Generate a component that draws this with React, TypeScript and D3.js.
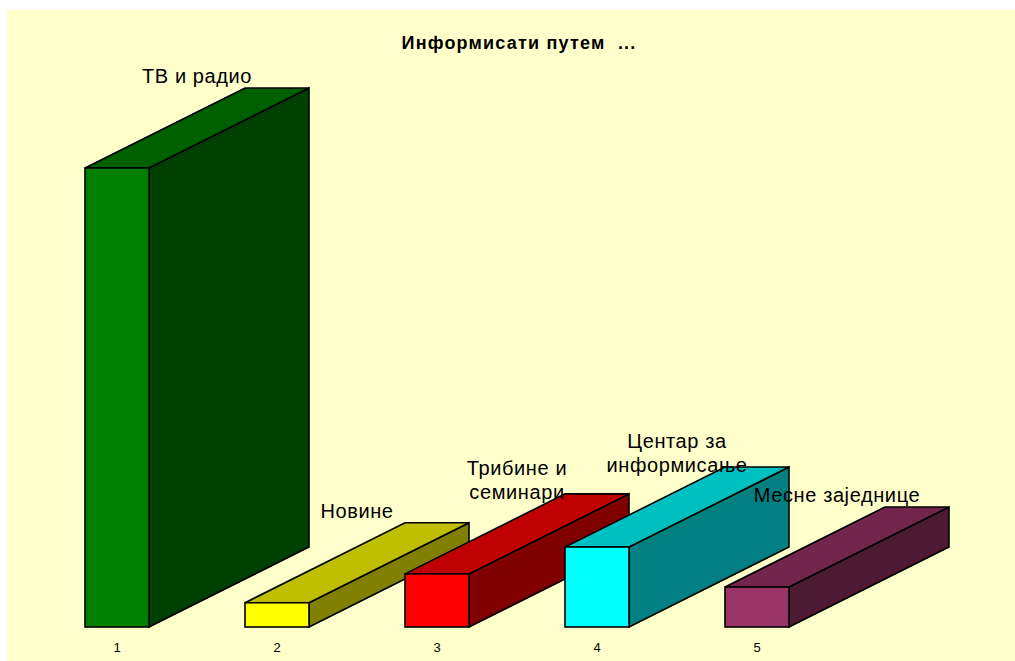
import React, { useEffect, useRef } from "react";
import * as d3 from "d3";

const categories = ["1", "2", "3", "4", "5"];
const labels = [
  ["ТВ и радио"],
  ["Новине"],
  ["Трибине и", "семинари"],
  ["Центар за", "информисање"],
  ["Месне заједнице"],
];
const values = [70, 3.7, 8.1, 12.2, 6.1];
const colors = ["#008000", "#FFFF00", "#FF0000", "#00FFFF", "#993366"];
const title = "Информисати путем  ...";

const App = () => {
  const ref = useRef<SVGSVGElement>(null);

  useEffect(() => {
    const width = 1015;
    const height = 661;
    const font = "Liberation Sans, Arial, sans-serif";
    const svg = d3.select(ref.current);
    svg.selectAll("*").remove();

    svg.append("rect")
      .attr("x", 7).attr("y", 10)
      .attr("width", width - 7).attr("height", height - 10)
      .attr("fill", "#FFFFCC");

    const x = d3.scaleBand()
      .domain(categories)
      .range([37, 837])
      .paddingInner(0.6)
      .paddingOuter(0.3);

    const y = d3.scaleLinear()
      .domain([0, 70])
      .range([627, 168]);

    const dx = 160;
    const dy = -80;
    const bw = x.bandwidth();

    const shade = (c: string, k: number) => {
      const col = d3.rgb(c);
      return d3.rgb(col.r * k, col.g * k, col.b * k).formatHex();
    };

    const g = svg.append("g")
      .attr("stroke", "#000")
      .attr("stroke-width", 1.6)
      .attr("stroke-linejoin", "miter");

    categories.forEach((c, i) => {
      const x0 = x(c)!;
      const x1 = x0 + bw;
      const yt = y(values[i]);
      const yb = y(0);
      // side face
      g.append("path")
        .attr("d", `M${x1},${yb}L${x1 + dx},${yb + dy}L${x1 + dx},${yt + dy}L${x1},${yt}Z`)
        .attr("fill", shade(colors[i], 0.5));
      // top face
      g.append("path")
        .attr("d", `M${x0},${yt}L${x0 + dx},${yt + dy}L${x1 + dx},${yt + dy}L${x1},${yt}Z`)
        .attr("fill", shade(colors[i], 0.75));
      // front face
      g.append("rect")
        .attr("x", x0).attr("y", yt)
        .attr("width", bw).attr("height", yb - yt)
        .attr("fill", colors[i]);
    });

    // category labels
    svg.selectAll(".cat")
      .data(categories)
      .enter()
      .append("text")
      .attr("x", (d) => x(d)! + bw / 2)
      .attr("y", 652)
      .attr("text-anchor", "middle")
      .attr("font-family", font)
      .attr("font-size", 13)
      .attr("fill", "#000")
      .text((d) => d);

    // labels above bars
    categories.forEach((c, i) => {
      const cx = x(c)! + bw / 2 + dx / 2;
      const top = y(values[i]) + dy;
      const lines = labels[i];
      const lh = 23.3;
      const first = lines.length === 1 ? top - 5 : top - 7 - lh / 2;
      const t = svg.append("text")
        .attr("text-anchor", "middle")
        .attr("font-family", font)
        .attr("font-size", 20)
        .attr("letter-spacing", 0.6)
        .attr("fill", "#000");
      lines.forEach((l, j) => {
        t.append("tspan")
          .attr("x", cx)
          .attr("y", first + j * lh)
          .text(l);
      });
    });

    svg.append("text")
      .attr("x", 519)
      .attr("y", 49)
      .attr("text-anchor", "middle")
      .attr("font-family", font)
      .attr("font-size", 18)
      .attr("font-weight", "bold")
      .attr("letter-spacing", 1.2)
      .style("white-space", "pre")
      .attr("fill", "#000")
      .text(title);
  }, []);

  return (
    <svg
      ref={ref}
      width={1015}
      height={661}
      style={{ position: "fixed", left: 0, top: 0, display: "block", background: "#fff" }}
    />
  );
};

export default App;
